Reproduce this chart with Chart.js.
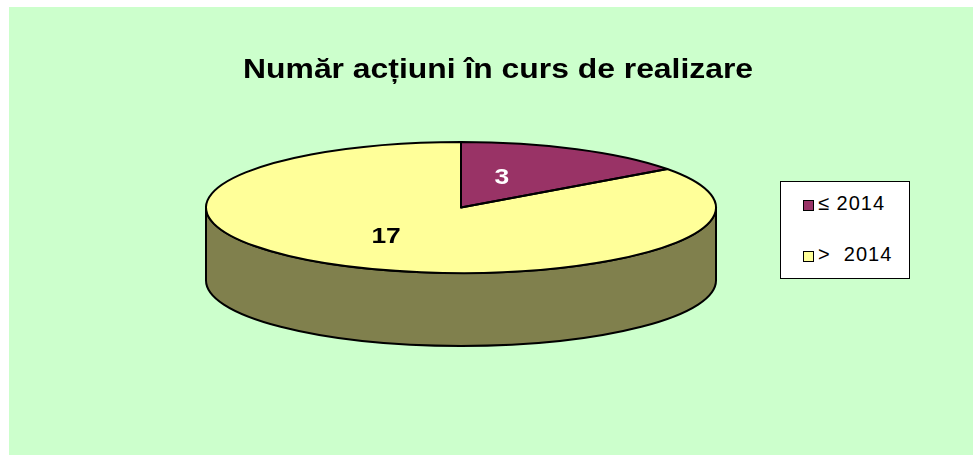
<!DOCTYPE html>
<html>
<head>
<meta charset="utf-8">
<title>Număr acțiuni în curs de realizare</title>
<script src="https://cdn.jsdelivr.net/npm/chart.js@4.4.1/dist/chart.umd.min.js"></script>
<style>
    body { margin: 0; background: #fff; font-family: "Liberation Sans", Arial, sans-serif; }
    #panel { position: absolute; left: 9px; top: 7px; width: 964px; height: 448px; background: #ccffcc; }
    #chartBox { position: absolute; left: 0; top: 0; width: 964px; height: 448px; }
    #title { position: absolute; left: 7px; top: 48px; width: 964px; margin: 0; text-align: center;
             font: bold 27px/28px "Liberation Sans", Arial, sans-serif; color: #000; }
    #title span { display: inline-block; transform: scaleX(1.18); }
    #legend { position: absolute; left: 771px; top: 174px; width: 128px; height: 96px;
              background: #fff; border: 1px solid #000; }
    #legend ul { list-style: none; margin: 0; padding: 9px 0 0 22px; }
    #legend li { height: 24px; line-height: 24px; font-size: 20px; letter-spacing: 1px; white-space: pre; margin-bottom: 27px; color: #000; }
    #legend .box { display: inline-block; width: 9px; height: 9px; border: 1px solid #000;
                   margin-right: 4px; vertical-align: middle; position: relative; top: 1px; }
</style>
</head>
<body>
<div id="panel">
    <div id="chartBox"><canvas id="actionsChart"></canvas></div>
    <h1 id="title"><span>Număr acțiuni în curs de realizare</span></h1>
    <div id="legend"><ul id="legendList"></ul></div>
</div>
<script>
// chart data
const categories = ['≤ 2014', '>  2014'];
const actionCounts = [3, 17];
const sliceColors = ['#993366', '#ffff99'];
const valueLabelColors = ['#ffffff', '#000000'];

function darken(hex, f) {
    const n = parseInt(hex.slice(1), 16);
    const r = Math.round(((n >> 16) & 255) * f);
    const g = Math.round(((n >> 8) & 255) * f);
    const b = Math.round((n & 255) * f);
    return `rgb(${r}, ${g}, ${b})`;
}

// Tilted 3D look: squash the flat pie into an ellipse and add the front wall
const pie3d = {
    id: 'pie3d',
    geom(chart, opts) {
        const a = chart.chartArea;
        const rx = a.width / 2;
        const ry = rx * opts.tilt;
        return { cx: (a.left + a.right) / 2, cy: a.top + ry, rx, ry, depth: a.height - 2 * ry };
    },
    beforeDatasetsDraw(chart, args, opts) {
        const ctx = chart.ctx;
        const g = this.geom(chart, opts);
        const arcs = chart.getDatasetMeta(0).data;

        // side walls, only the front half (0..PI) can be seen
        ctx.save();
        ctx.lineWidth = opts.borderWidth;
        ctx.strokeStyle = opts.borderColor;
        arcs.forEach((arc, i) => {
            const a0 = Math.max(arc.startAngle, 0);
            const a1 = Math.min(arc.endAngle, Math.PI);
            if (a1 <= a0) return;
            ctx.beginPath();
            ctx.ellipse(g.cx, g.cy, g.rx, g.ry, 0, a0, a1);
            ctx.ellipse(g.cx, g.cy + g.depth, g.rx, g.ry, 0, a1, a0, true);
            ctx.closePath();
            ctx.fillStyle = darken(sliceColors[i], opts.sideShade);
            ctx.fill();
            ctx.stroke();
        });
        ctx.restore();

        // the library draws the slices, we only squash them
        const arc = arcs[0];
        ctx.save();
        ctx.translate(g.cx, g.cy);
        ctx.scale(g.rx / arc.outerRadius, g.ry / arc.outerRadius);
        ctx.translate(-arc.x, -arc.y);
    },
    afterDatasetsDraw(chart, args, opts) {
        const ctx = chart.ctx;
        ctx.restore();
        const g = this.geom(chart, opts);
        const arcs = chart.getDatasetMeta(0).data;
        const values = chart.data.datasets[0].data;

        // outlines (drawn untransformed so the line width stays even)
        ctx.save();
        ctx.lineWidth = opts.borderWidth;
        ctx.strokeStyle = opts.borderColor;
        ctx.lineJoin = 'round';
        arcs.forEach(arc => {
            ctx.beginPath();
            ctx.moveTo(g.cx, g.cy);
            ctx.ellipse(g.cx, g.cy, g.rx, g.ry, 0, arc.startAngle, arc.endAngle);
            ctx.closePath();
            ctx.stroke();
        });

        // value labels
        ctx.font = opts.labelFont;
        ctx.textAlign = 'center';
        ctx.textBaseline = 'middle';
        arcs.forEach((arc, i) => {
            const p = arc.tooltipPosition();
            const x = g.cx + (p.x - arc.x) * g.rx / arc.outerRadius + opts.labelOffsetX;
            const y = g.cy + (p.y - arc.y) * g.ry / arc.outerRadius;
            ctx.save();
            ctx.translate(x, y);
            ctx.scale(opts.labelStretch, 1);
            ctx.fillStyle = valueLabelColors[i];
            ctx.fillText(String(values[i]), 0, 0);
            ctx.restore();
        });
        ctx.restore();
    }
};

const htmlLegend = {
    id: 'htmlLegend',
    afterUpdate(chart) {
        const list = document.getElementById('legendList');
        list.innerHTML = '';
        const ds = chart.data.datasets[0];
        chart.data.labels.forEach((label, i) => {
            const li = document.createElement('li');
            const box = document.createElement('span');
            box.className = 'box';
            box.style.background = ds.backgroundColor[i];
            li.appendChild(box);
            li.appendChild(document.createTextNode(label));
            list.appendChild(li);
        });
    }
};

new Chart(document.getElementById('actionsChart'), {
    type: 'pie',
    data: {
        labels: categories,
        datasets: [{
            data: actionCounts,
            backgroundColor: sliceColors,
            borderWidth: 0,
            hoverOffset: 0,
            clip: false
        }]
    },
    options: {
        responsive: true,
        maintainAspectRatio: false,
        animation: false,
        events: [],
        layout: { padding: { left: 197, right: 257, top: 135, bottom: 109 } },
        plugins: {
            legend: { display: false },
            title: { display: false },
            tooltip: { enabled: false },
            pie3d: {
                tilt: 0.257,
                sideShade: 0.5,
                borderColor: '#000',
                borderWidth: 2,
                labelFont: 'bold 22px "Liberation Sans", Arial, sans-serif',
                labelStretch: 1.2,
                labelOffsetX: -17
            }
        }
    },
    plugins: [pie3d, htmlLegend]
});
</script>
</body>
</html>
